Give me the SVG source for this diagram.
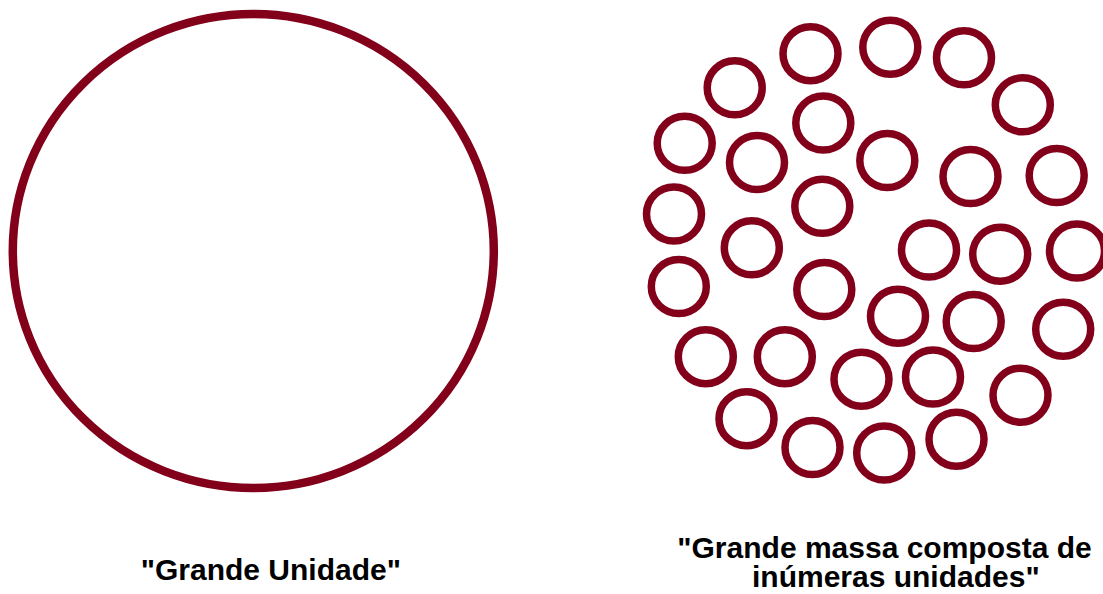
<svg xmlns="http://www.w3.org/2000/svg" width="1103" height="594" viewBox="0 0 1103 594">
<style>
.c{fill:none;stroke:#82001a;stroke-width:7.5}
.big{fill:none;stroke:#82001a;stroke-width:8.5}
.t{font-family:"Liberation Sans",Arial,sans-serif;font-weight:bold;font-size:30px;fill:#000}
</style>
<defs><ellipse id="s" cx="0" cy="0" rx="27.5" ry="27" class="c"/></defs>
<rect width="1103" height="594" fill="#fff"/>
<g id="grande-unidade">
<ellipse class="big" cx="253.3" cy="251" rx="240.5" ry="237"/>
<text class="t" x="270.8" y="580" text-anchor="middle">"Grande Unidade"</text>
</g>
<g id="massa">
<use href="#s" x="810.5" y="53.7"/>
<use href="#s" x="890.3" y="47.2"/>
<use href="#s" x="964" y="57.8"/>
<use href="#s" x="734.7" y="87.8"/>
<use href="#s" x="1022.8" y="104.8"/>
<use href="#s" x="823.3" y="123"/>
<use href="#s" x="684.7" y="143.3"/>
<use href="#s" x="757" y="162.5"/>
<use href="#s" x="887.3" y="160.5"/>
<use href="#s" x="970.5" y="176.5"/>
<use href="#s" x="1056.7" y="175.5"/>
<use href="#s" x="674" y="214"/>
<use href="#s" x="822.3" y="206.3"/>
<use href="#s" x="751.8" y="247.8"/>
<use href="#s" x="929" y="250"/>
<use href="#s" x="1000.2" y="254.2"/>
<use href="#s" x="1077" y="251"/>
<use href="#s" x="678.8" y="286.5"/>
<use href="#s" x="824.3" y="289.5"/>
<use href="#s" x="898" y="316.2"/>
<use href="#s" x="973.7" y="321.5"/>
<use href="#s" x="1063.2" y="329.2"/>
<use href="#s" x="705.8" y="356.7"/>
<use href="#s" x="784.8" y="356.7"/>
<use href="#s" x="861.5" y="379.2"/>
<use href="#s" x="933" y="377"/>
<use href="#s" x="1020.5" y="395.2"/>
<use href="#s" x="746.5" y="418.7"/>
<use href="#s" x="812.5" y="447.5"/>
<use href="#s" x="884.2" y="453"/>
<use href="#s" x="956.5" y="439.2"/>
<text class="t" x="884.5" y="558.3" text-anchor="middle">"Grande massa composta de</text>
<text class="t" x="895.8" y="586.7" text-anchor="middle">inúmeras unidades"</text>
</g>
</svg>
